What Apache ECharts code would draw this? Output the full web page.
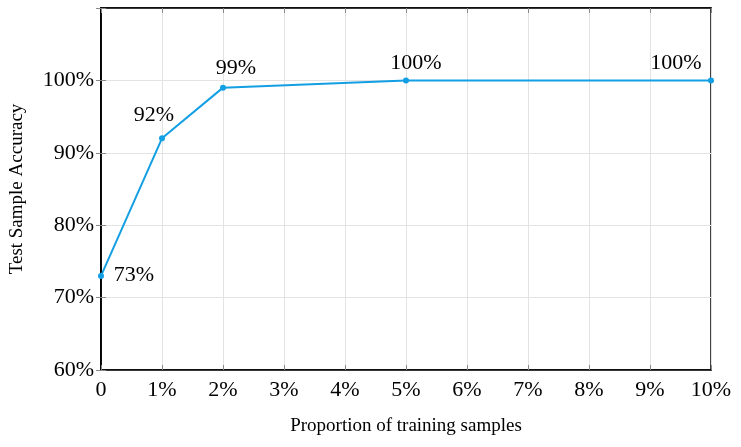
<!DOCTYPE html>
<html><head><meta charset="utf-8">
<script src="https://cdn.jsdelivr.net/npm/echarts@6/dist/echarts.min.js"></script>
<style>html,body{margin:0;padding:0;background:#fff}#c{width:741px;height:447px}</style>
</head><body><div id="c"></div>
<script>
const xValues = [0, 1, 2, 5, 10];
const accuracy = [73, 92, 99, 100, 100];
const dataLabels = ['73%', '92%', '99%', '100%', '100%'];
const xTicks = [0, 1, 2, 3, 4, 5, 6, 7, 8, 9, 10];
const yTicks = [60, 70, 80, 90, 100];

const labelOffsets = [[33, 18], [-8, -4], [13, 0], [10, 2], [-35, 2]];
const font = 'Liberation Serif, Times New Roman, serif';
const chart = echarts.init(document.getElementById('c'));
const tickStyle = {show: true, inside: true, length: 5, lineStyle: {color: '#888', width: 1}};
chart.setOption({
  animation: false,
  grid: {left: 101, right: 30, top: 8, bottom: 77, show: true, borderColor: '#000', borderWidth: 1.5, backgroundColor: 'transparent'},
  xAxis: [{
    type: 'value', min: xTicks[0], max: xTicks[xTicks.length - 1], interval: 1,
    name: 'Proportion of training samples', nameLocation: 'middle', nameGap: 47,
    nameTextStyle: {fontFamily: font, fontSize: 19, color: '#000'},
    axisLine: {show: true, lineStyle: {color: '#000', width: 1.5}},
    axisTick: tickStyle,
    axisLabel: {fontFamily: font, fontSize: 22, color: '#000', margin: 9,
      formatter: v => v === 0 ? '0' : v + '%'},
    splitLine: {show: true, lineStyle: {color: '#e3e3e3', width: 1}}
  }, {
    type: 'value', position: 'top', min: 0, max: 10, interval: 1,
    axisLine: {show: true, lineStyle: {color: '#000', width: 1.5}},
    axisTick: tickStyle, axisLabel: {show: false}, splitLine: {show: false}
  }],
  yAxis: [{
    type: 'value', min: 60, max: 110, interval: 10,
    name: 'Test Sample Accuracy', nameLocation: 'middle', nameGap: 74,
    nameTextStyle: {fontFamily: font, fontSize: 19, color: '#000'},
    axisLine: {show: true, lineStyle: {color: '#000', width: 1.5}},
    axisTick: tickStyle,
    axisLabel: {fontFamily: font, fontSize: 22, color: '#000', margin: 7,
      formatter: v => yTicks.indexOf(v) >= 0 ? v + '%' : ''},
    splitLine: {show: true, lineStyle: {color: '#e3e3e3', width: 1}}
  }, {
    type: 'value', position: 'right', min: 60, max: 110, interval: 10,
    axisLine: {show: true, lineStyle: {color: '#000', width: 1.5}},
    axisTick: tickStyle, axisLabel: {show: false}, splitLine: {show: false}
  }],
  series: [{
    type: 'line',
    data: xValues.map((x, i) => ({
      value: [x, accuracy[i]],
      label: {show: true, position: 'top', offset: labelOffsets[i], formatter: dataLabels[i],
        fontFamily: font, fontSize: 22, color: '#000'}
    })),
    symbol: 'circle', symbolSize: 6,
    lineStyle: {color: '#139fe3', width: 2},
    itemStyle: {color: '#139fe3'},
    clip: false
  }]
});
</script></body></html>
